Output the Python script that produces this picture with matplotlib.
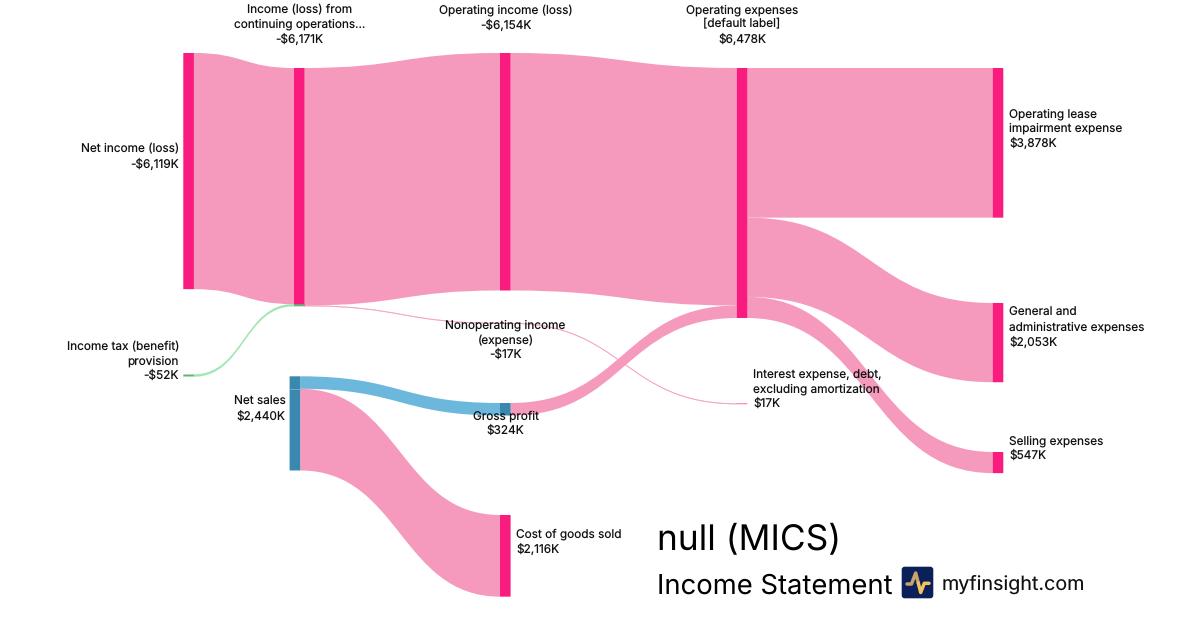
import numpy as np
import matplotlib
matplotlib.use("Agg")
import matplotlib.pyplot as plt
from matplotlib.path import Path
from matplotlib.patches import PathPatch, Rectangle, FancyBboxPatch

plt.rcParams['font.family'] = ['Inter', 'DejaVu Sans']
plt.rcParams['text.hinting'] = 'no_hinting'

# noeuds (valeurs en milliers de dollars)
node_names = ["Net income (loss)", "Income tax (benefit)\nprovision",
              "Income (loss) from\ncontinuing operations...", "Net sales",
              "Operating income (loss)", "Nonoperating income\n(expense)",
              "Gross profit", "Cost of goods sold",
              "Operating expenses\n[default label]",
              "Interest expense, debt,\nexcluding amortization",
              "Operating lease\nimpairment expense",
              "General and\nadministrative expenses", "Selling expenses"]
node_values = [-6119, -52, -6171, 2440, -6154, -17, 324, 2116, 6478, 17, 3878, 2053, 547]

# liens : source, cible, valeur, type
link_src = [0, 1, 2, 2, 3, 3, 4, 5, 6, 8, 8, 8]
link_dst = [2, 2, 4, 5, 6, 7, 8, 9, 8, 10, 11, 12]
link_val = [6119, 52, 6154, 17, 324, 2116, 6154, 17, 324, 3878, 2053, 547]
link_kind = ["loss", "tax", "loss", "loss", "profit", "loss", "loss", "loss", "loss", "loss", "loss", "loss"]

# mise en page en pixels
node_x = [183.3, 183.3, 294, 289.6, 500, 500, 500, 500, 736.8, 736.8, 992.7, 992.7, 992.7]
node_top = [53, 374.5, 68, 376.3, 53, 323, 403, 515, 68, 403.5, 68, 303, 452]
node_w = 10.6
scale = 250 / 6478

link_colors = {"loss": "#F59ABD", "tax": "#A0E6B2", "profit": "#6BB8DC"}
node_colors = {"loss": "#F91B7D", "tax": "#5FB47C", "profit": "#3A88B0"}
node_kind = ["loss", "tax", "loss", "profit", "loss", "loss", "profit", "loss",
             "loss", "loss", "loss", "loss", "loss"]

# (x, y, ha) de chaque étiquette
label_pos = [(179, 157, "right"), (179, 361.5, "right"), (299.5, 25, "center"),
             (285.5, 409, "right"), (505.5, 18, "center"), (505.5, 339.5, "center"),
             (505.5, 423, "center"), (516, 542, "left"), (742, 25, "center"),
             (753, 389.5, "left"), (1009, 129, "left"), (1009, 328, "left"), (1009, 448, "left")]


def fmt_value(v):
    return ("-" if v < 0 else "") + "$" + format(abs(v), ",") + "K"


def ribbon(x0, x1, y0, y1, h):
    xm = (x0 + x1) / 2
    verts = [(x0, y0), (xm, y0), (xm, y1), (x1, y1), (x1, y1 + h),
             (xm, y1 + h), (xm, y0 + h), (x0, y0 + h), (x0, y0)]
    codes = [Path.MOVETO, Path.CURVE4, Path.CURVE4, Path.CURVE4, Path.LINETO,
             Path.CURVE4, Path.CURVE4, Path.CURVE4, Path.CLOSEPOLY]
    return Path(verts, codes)


fig = plt.figure(figsize=(12, 6.3), dpi=100)
ax = fig.add_axes([0, 0, 1, 1])
ax.set_xlim(0, 1200)
ax.set_ylim(630, 0)
ax.axis("off")

# les liens sont empilés dans l'ordre de la liste
out_y = list(node_top)
in_y = list(node_top)
for s, d, v, k in zip(link_src, link_dst, link_val, link_kind):
    h = v * scale
    p = ribbon(node_x[s] + node_w, node_x[d], out_y[s], in_y[d], h)
    # les liens très fins ont besoin d'un petit contour pour rester visibles
    thin = v < 100
    ax.add_patch(PathPatch(p, fc=link_colors[k], ec=link_colors[k] if thin else "none",
                           lw=0.25 if thin else 0, zorder=2))
    out_y[s] += h
    in_y[d] += h

# les noeuds
for i, v in enumerate(node_values):
    h = abs(v) * scale
    ax.add_patch(Rectangle((node_x[i], node_top[i]), node_w, h, fc=node_colors[node_kind[i]],
                           ec="none", zorder=3, snap=False))

# segment vert de l'impôt dans le noeud suivant
y_tax = node_top[2] + 6119 * scale
ax.add_patch(Rectangle((node_x[2], y_tax), node_w, 52 * scale, fc=node_colors["tax"], ec="none", zorder=4, snap=False))
# séparation claire dans Net sales
y_sep = node_top[3] + 324 * scale
ax.plot([node_x[3], node_x[3] + node_w], [y_sep, y_sep], color="#7FB4D0", lw=0.6, zorder=4)

for name, v, (x, y, ha) in zip(node_names, node_values, label_pos):
    ax.text(x, y, name + "\n" + fmt_value(v), ha=ha, va="center", multialignment=ha,
            fontsize=8.5, linespacing=1.32, color="#111111", zorder=5)

ax.text(657, 541, "null (MICS)", fontsize=25.4, color="#000000", va="center", ha="left", zorder=5)
ax.text(657, 586, "Income Statement", fontsize=19.75, color="#000000", va="center", ha="left", zorder=5)
ax.text(942, 584, "myfinsight.com", fontsize=14.2, color="#111111", va="center", ha="left", zorder=5)

# logo
ax.add_patch(FancyBboxPatch((904.7, 569.7), 25.6, 25.6, boxstyle="round,pad=3,rounding_size=3", fc="#0B2058", ec="none", zorder=5))
ax.plot([907, 911.5, 915.7, 918.3], [584, 584, 573, 583], color="#C9A26E", lw=2.5, solid_capstyle="round", solid_joinstyle="round", zorder=6)
ax.plot([918.3, 920.7, 924.3, 929], [583, 592.5, 583.3, 583.3], color="#F0C35E", lw=2.5, solid_capstyle="round", solid_joinstyle="round", zorder=6)

fig.savefig("out.png", dpi=100, facecolor="white")
